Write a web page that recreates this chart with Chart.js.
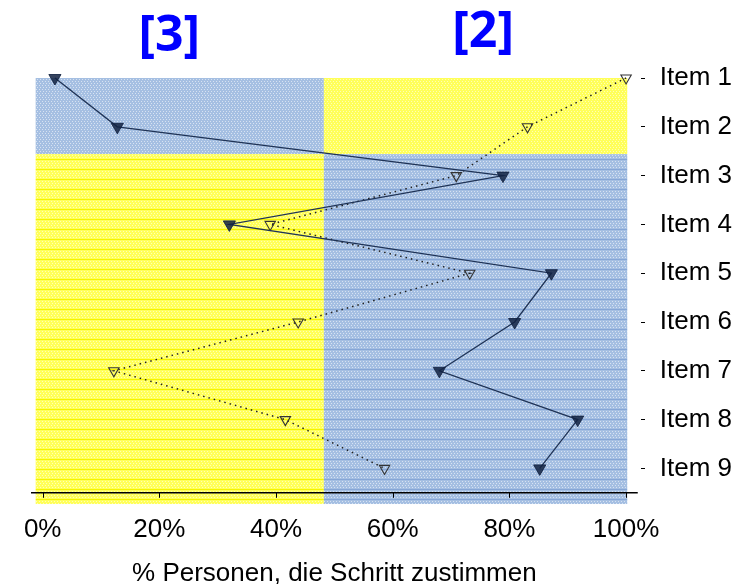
<!DOCTYPE html>
<html>
<head>
<meta charset="utf-8">
<script src="https://cdn.jsdelivr.net/npm/chart.js@4/dist/chart.umd.min.js"></script>
<style>
  html, body { margin: 0; padding: 0; background: #ffffff; }
  #wrap { width: 743px; height: 584px; position: relative; }
</style>
</head>
<body>
<div id="wrap"><canvas id="c" width="743" height="584"></canvas></div>
<script>
// ---- data ----
const categories = ['Item 1', 'Item 2', 'Item 3', 'Item 4', 'Item 5', 'Item 6', 'Item 7', 'Item 8', 'Item 9'];
const xTickValues = [0, 20, 40, 60, 80, 100];
const seriesFilled = [2.1, 12.8, 78.9, 32.0, 87.2, 80.9, 68.0, 91.7, 85.2];
const seriesOpen = [100, 83.1, 70.9, 39.0, 73.2, 43.8, 12.2, 41.6, 58.6];
const groupLabels = ['[3]', '[2]'];
const groupLabelX = [21.7, 75.5];
const splitX = 48.2;
const splitY = 2.56;
const axisTitle = '% Personen, die Schritt zustimmen';

function makePattern(base, dot, line, h) {
  const t = document.createElement('canvas');
  t.width = 6; t.height = h;
  const g = t.getContext('2d');
  g.fillStyle = base; g.fillRect(0, 0, 6, h);
  g.fillStyle = dot;
  for (let y = 1; y < h; y += 2) {
    for (let x = ((y - 1) / 2) % 2 === 0 ? 0 : 1; x < 6; x += 3) g.fillRect(x, y, 1, 1);
  }
  if (line) { g.fillStyle = line; g.fillRect(0, h - 1, 6, 1); }
  return document.getElementById('c').getContext('2d').createPattern(t, 'repeat');
}
const blueDots = makePattern('#a5bfe2', 'rgba(255,255,255,0.55)', null, 4);
const yellowDots = makePattern('#ffff5a', 'rgba(255,255,255,0.55)', null, 4);
const blueLines = makePattern('#a5bfe2', 'rgba(255,255,255,0.55)', '#86a6d6', 10);
const yellowLines = makePattern('#ffff5a', 'rgba(255,255,255,0.55)', '#f4f400', 10);

const bgPlugin = {
  id: 'bgQuadrants',
  beforeDatasetsDraw(chart) {
    const { ctx, scales: { x, y } } = chart;
    const x0 = x.getPixelForValue(-1.2), xm = x.getPixelForValue(splitX), x1 = x.getPixelForValue(100.2);
    const y0 = y.getPixelForValue(1), ym = y.getPixelForValue(splitY), y1 = y.getPixelForValue(9.73);
    ctx.save();
    ctx.fillStyle = blueDots; ctx.fillRect(x0, y0, xm - x0, ym - y0);
    ctx.fillStyle = yellowDots; ctx.fillRect(xm, y0, x1 - xm, ym - y0);
    ctx.fillStyle = yellowLines; ctx.fillRect(x0, ym, xm - x0, y1 - ym);
    ctx.fillStyle = blueLines; ctx.fillRect(xm, ym, x1 - xm, y1 - ym);
    // x axis line and tick marks over the background
    ctx.strokeStyle = '#000'; ctx.lineWidth = 1.5;
    ctx.beginPath();
    const yb = chart.chartArea.bottom;
    ctx.moveTo(chart.chartArea.left, yb); ctx.lineTo(chart.chartArea.right, yb);
    ctx.stroke();
    xTickValues.forEach(v => {
      const px = Math.round(x.getPixelForValue(v)) + 0.5;
      ctx.beginPath(); ctx.lineWidth = 1;
      ctx.moveTo(px, yb); ctx.lineTo(px, yb + 5); ctx.stroke();
    });
    ctx.restore();
  },
  afterDraw(chart) {
    const { ctx, scales: { x } } = chart;
    ctx.save();
    ctx.fillStyle = '#0000ff';
    ctx.font = 'bold 50px "Open Sans", "DejaVu Sans", sans-serif';
    ctx.textAlign = 'center';
    ctx.textBaseline = 'middle';
    ctx.fillText(groupLabels[0], x.getPixelForValue(groupLabelX[0]), 37);
    ctx.fillText(groupLabels[1], x.getPixelForValue(groupLabelX[1]), 33);
    ctx.restore();
  }
};

new Chart(document.getElementById('c'), {
  type: 'line',
  data: {
    datasets: [
      {
        label: 'filled',
        data: seriesFilled.map((v, i) => ({ x: v, y: i + 1 })),
        borderColor: '#1f3356',
        borderWidth: 1.3,
        pointStyle: 'triangle',
        rotation: 180,
        pointRadius: 7,
        pointBackgroundColor: 'rgba(18,34,66,0.85)',
        pointBorderColor: 'rgba(18,34,66,0.85)',
        pointBorderWidth: 1,
        clip: false
      },
      {
        label: 'open',
        data: seriesOpen.map((v, i) => ({ x: v, y: i + 1 })),
        borderColor: '#222',
        borderWidth: 1.5,
        borderDash: [1.5, 4],
        pointStyle: 'triangle',
        rotation: 180,
        pointRadius: 6,
        pointBackgroundColor: 'rgba(0,0,0,0)',
        pointBorderColor: '#333',
        pointBorderWidth: 1.1,
        clip: false
      }
    ]
  },
  options: {
    responsive: false,
    animation: false,
    events: [],
    layout: { padding: { left: 31, right: -3, top: 78, bottom: -4 } },
    plugins: { legend: { display: false }, tooltip: { enabled: false } },
    scales: {
      x: {
        type: 'linear',
        min: -2, max: 102,
        afterBuildTicks: s => { s.ticks = xTickValues.map(v => ({ value: v })); },
        grid: { drawOnChartArea: false, drawTicks: true, tickLength: 5, color: 'rgba(0,0,0,0)' },
        border: { display: false },
        ticks: {
          color: '#000', padding: 16,
          font: { family: '"Liberation Sans", Arial, sans-serif', size: 26 },
          maxRotation: 0, autoSkip: false,
          callback: v => v + '%'
        },
        title: {
          display: true, text: axisTitle, color: '#000',
          font: { family: '"Liberation Sans", Arial, sans-serif', size: 26, lineHeight: 1.0 },
          padding: { top: 0, bottom: 1 }
        }
      },
      y: {
        type: 'linear',
        position: 'right',
        reverse: true,
        min: 1, max: 9.5,
        afterBuildTicks: s => { s.ticks = categories.map((c, i) => ({ value: i + 1 })); },
        grid: { drawOnChartArea: false, drawTicks: true, tickLength: 8, tickColor: '#000', tickBorderDash: [0, 3, 4, 100], tickWidth: 1 },
        border: { display: false },
        ticks: {
          color: '#000', padding: 14,
          font: { family: '"Liberation Sans", Arial, sans-serif', size: 26 },
          autoSkip: false,
          callback: v => categories[v - 1]
        }
      }
    }
  },
  plugins: [bgPlugin]
});
</script>
</body>
</html>
